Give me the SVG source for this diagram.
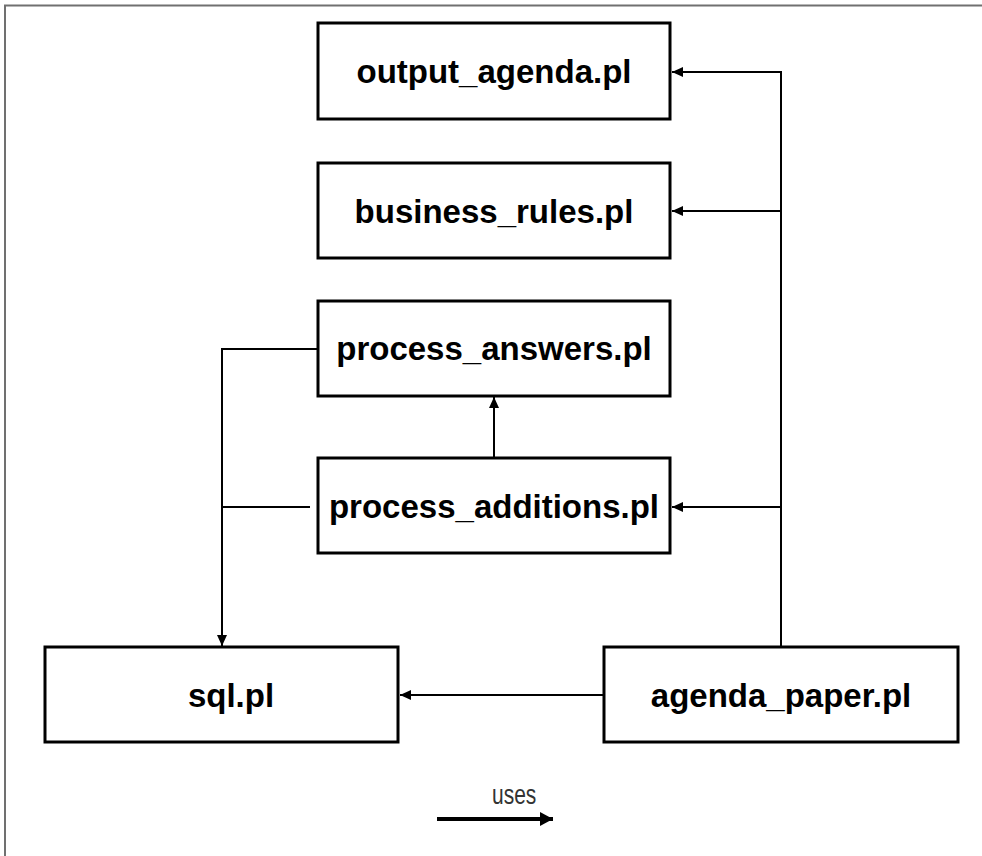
<svg xmlns="http://www.w3.org/2000/svg" width="982" height="856" viewBox="0 0 982 856">
<defs>
<style>
.box{fill:#fff;stroke:#000;stroke-width:3}
.lbl{font-family:"Liberation Sans",Arial,sans-serif;font-weight:bold;font-size:33px;fill:#000;text-anchor:middle}
.con{fill:none;stroke:#000;stroke-width:2}
</style>
<marker id="ah" markerUnits="userSpaceOnUse" markerWidth="12" markerHeight="10" refX="11" refY="5" orient="auto">
<path d="M0,0 L11,5 L0,10 Z" fill="#000"/>
</marker>
<marker id="ahBig" markerUnits="userSpaceOnUse" markerWidth="14" markerHeight="14" refX="13" refY="7" orient="auto">
<path d="M0,0 L13,7 L0,14 Z" fill="#000"/>
</marker>
</defs>
<rect width="982" height="856" fill="#fff"/>
<path d="M5,856 V5.5 H982" fill="none" stroke="#707070" stroke-width="2"/>
<g id="connectors">
<path class="con" d="M781,647 V72 H672" marker-end="url(#ah)"/>
<path class="con" d="M781,211 H672" marker-end="url(#ah)"/>
<path class="con" d="M781,507 H672" marker-end="url(#ah)"/>
<path class="con" d="M494,458 V397" marker-end="url(#ah)"/>
<path class="con" d="M318,349 H222 V646" marker-end="url(#ah)"/>
<path class="con" d="M310,507 H222"/>
<path class="con" d="M604,695 H400" marker-end="url(#ah)"/>
</g>
<g id="output_agenda"><rect class="box" x="318" y="23" width="352" height="96"/><text class="lbl" x="494" y="83">output_agenda.pl</text></g>
<g id="business_rules"><rect class="box" x="318" y="163" width="352" height="95"/><text class="lbl" x="494" y="223">business_rules.pl</text></g>
<g id="process_answers"><rect class="box" x="318" y="301" width="352" height="95"/><text class="lbl" x="494" y="360">process_answers.pl</text></g>
<g id="process_additions"><rect class="box" x="318" y="458" width="352" height="95"/><text class="lbl" x="494" y="518">process_additions.pl</text></g>
<g id="sql"><rect class="box" x="45" y="647" width="353" height="95"/><text class="lbl" x="231" y="707">sql.pl</text></g>
<g id="agenda_paper"><rect class="box" x="604" y="647" width="354" height="95"/><text class="lbl" x="781" y="707">agenda_paper.pl</text></g>
<g id="legend">
<text x="0" y="0" transform="translate(492,804) scale(0.75,1)" font-family="'Liberation Sans',Arial,sans-serif" font-size="28" fill="#333">uses</text>
<path d="M437,819 H553" stroke="#000" stroke-width="4" fill="none" marker-end="url(#ahBig)"/>
</g>
</svg>
